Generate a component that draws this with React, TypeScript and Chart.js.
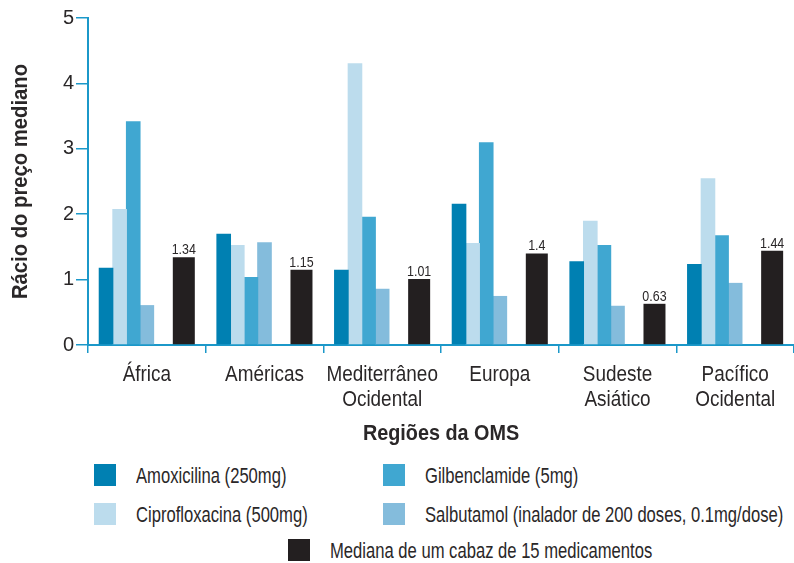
import React, { useEffect, useRef } from 'react';
import { Chart, registerables } from 'chart.js';

Chart.register(...registerables);

// ---- data ----
const categories: string[][] = [
  ['África'],
  ['Américas'],
  ['Mediterrâneo', 'Ocidental'],
  ['Europa'],
  ['Sudeste', 'Asiático'],
  ['Pacífico', 'Ocidental'],
];
const amoxicilina = [1.18, 1.70, 1.15, 2.16, 1.28, 1.24];
const ciprofloxacina = [2.08, 1.53, 4.31, 1.56, 1.90, 2.55];
const gilbenclamide = [3.42, 1.04, 1.96, 3.10, 1.53, 1.68];
const salbutamol = [0.61, 1.57, 0.86, 0.75, 0.60, 0.95];
const mediana = [1.34, 1.15, 1.01, 1.40, 0.63, 1.44];
const medianaLabels = ['1.34', '1.15', '1.01', '1.4', '0.63', '1.44'];
const yMin = 0;
const yMax = 5;
const yStep = 1;

const seriesNames = [
  'Amoxicilina (250mg)',
  'Ciprofloxacina (500mg)',
  'Gilbenclamide (5mg)',
  'Salbutamol (inalador de 200 doses, 0.1mg/dose)',
  'Mediana de um cabaz de 15 medicamentos',
];
const seriesColors = ['#0080b2', '#bcdced', '#40a7d1', '#84bcdc', '#231f20'];

const yTitle = 'Rácio do preço mediano';
const xTitle = 'Regiões da OMS';

// ---- styles ----
const BLUE = '#1b98c9';
const TEXT = '#2a2728';
const FONT = "'Liberation Sans', Arial, sans-serif";

function drawText(
  ctx: CanvasRenderingContext2D,
  text: string,
  x: number,
  y: number,
  font: string,
  sx: number,
  rotate = 0
) {
  ctx.save();
  ctx.translate(x, y);
  if (rotate) ctx.rotate(rotate);
  ctx.scale(sx, 1);
  ctx.font = font;
  ctx.fillStyle = TEXT;
  ctx.textAlign = 'center';
  ctx.textBaseline = 'alphabetic';
  ctx.fillText(text, 0, 0);
  ctx.restore();
}

const textPlugin = {
  id: 'condensedText',
  afterDraw(chart: any) {
    const ctx = chart.ctx as CanvasRenderingContext2D;
    const xs = chart.scales.x;
    const area = chart.chartArea;
    // category labels
    categories.forEach((lines, i) => {
      const px = xs.getPixelForValue(i);
      lines.forEach((line, j) => {
        drawText(ctx, line, px, xs.top + 36 + 24.5 * j, `22px ${FONT}`, 0.86);
      });
    });
    // axis titles
    drawText(ctx, xTitle, (area.left + area.right) / 2, xs.top + 95, `bold 22px ${FONT}`, 0.9);
    drawText(ctx, yTitle, 27, (area.top + area.bottom) / 2, `bold 22px ${FONT}`, 0.92, -Math.PI / 2);
    // median value labels
    chart.data.datasets.forEach((ds: any, i: number) => {
      if (!ds._isMedian) return;
      const meta = chart.getDatasetMeta(i);
      meta.data.forEach((el: any, j: number) => {
        drawText(ctx, medianaLabels[j], el.x, el.y - 3, `15px ${FONT}`, 0.83);
      });
    });
  },
};

function ChartCanvas() {
  const ref = useRef<HTMLCanvasElement | null>(null);
  useEffect(() => {
    if (!ref.current) return;
    const empty = categories.map(() => null);
    const drugOpts = { categoryPercentage: 0.809, barPercentage: 1.076 };
    const medOpts = { categoryPercentage: 1.1, barPercentage: 1.19 };
    const chart = new Chart(ref.current, {
      type: 'bar',
      data: {
        labels: categories,
        datasets: [
          { label: seriesNames[0], data: amoxicilina, backgroundColor: seriesColors[0], ...drugOpts },
          { label: seriesNames[1], data: ciprofloxacina, backgroundColor: seriesColors[1], ...drugOpts },
          { label: seriesNames[2], data: gilbenclamide, backgroundColor: seriesColors[2], ...drugOpts },
          { label: seriesNames[3], data: salbutamol, backgroundColor: seriesColors[3], ...drugOpts },
          { label: 'gap', data: empty, ...drugOpts },
          {
            label: seriesNames[4],
            data: mediana,
            backgroundColor: seriesColors[4],
            ...medOpts,
            _isMedian: true,
          } as any,
          { label: 'gap2', data: empty, ...drugOpts },
        ] as any,
      },
      options: {
        animation: false,
        responsive: false,
        devicePixelRatio: 1,
        layout: { padding: { top: 18, left: 0, right: 0, bottom: 0 } },
        plugins: {
          legend: { display: false },
          tooltip: { enabled: false },
        },
        scales: {
          x: {
            type: 'category',
            offset: true,
            grid: {
              offset: true,
              drawOnChartArea: false,
              drawTicks: true,
              tickLength: 8,
              color: BLUE,
              lineWidth: 1.5,
            },
            border: { color: BLUE, width: 2 },
            ticks: { display: false, autoSkip: false },
            afterFit: (s: any) => {
              s.height = 105;
            },
          },
          y: {
            min: yMin,
            max: yMax,
            ticks: {
              stepSize: yStep,
              color: TEXT,
              font: { family: FONT, size: 20 },
              padding: 2,
            },
            grid: {
              drawOnChartArea: false,
              drawTicks: true,
              tickLength: 12,
              color: BLUE,
              lineWidth: 1.5,
            },
            border: { color: BLUE, width: 2 },
            afterFit: (s: any) => {
              s.width = 88;
            },
          },
        },
      } as any,
      plugins: [textPlugin],
    });
    return () => chart.destroy();
  }, []);
  return <canvas ref={ref} width={794} height={450} style={{ display: 'block', width: 794, height: 450 }} />;
}

function LegendItem({ color, label, boxLeft, boxTop, textLeft }: any) {
  return (
    <>
      <div
        style={{
          position: 'absolute',
          left: boxLeft,
          top: boxTop,
          width: 22,
          height: 22,
          background: color,
        }}
      />
      <div
        style={{
          position: 'absolute',
          left: textLeft,
          top: boxTop,
          height: 22,
          lineHeight: '24px',
          fontFamily: FONT,
          fontSize: 22,
          color: TEXT,
          whiteSpace: 'nowrap',
          transform: 'scaleX(0.755)',
          transformOrigin: 'left center',
        }}
      >
        {label}
      </div>
    </>
  );
}

export default function App() {
  return (
    <div
      style={{
        position: 'absolute',
        left: 0,
        top: 0,
        width: 794,
        height: 563,
        background: '#ffffff',
        overflow: 'hidden',
      }}
    >
      <ChartCanvas />
      <LegendItem color={seriesColors[0]} label={seriesNames[0]} boxLeft={94} boxTop={464} textLeft={136} />
      <LegendItem color={seriesColors[1]} label={seriesNames[1]} boxLeft={94} boxTop={503} textLeft={136} />
      <LegendItem color={seriesColors[2]} label={seriesNames[2]} boxLeft={383} boxTop={464} textLeft={425} />
      <LegendItem color={seriesColors[3]} label={seriesNames[3]} boxLeft={383} boxTop={503} textLeft={425} />
      <LegendItem color={seriesColors[4]} label={seriesNames[4]} boxLeft={288} boxTop={539} textLeft={330} />
    </div>
  );
}
